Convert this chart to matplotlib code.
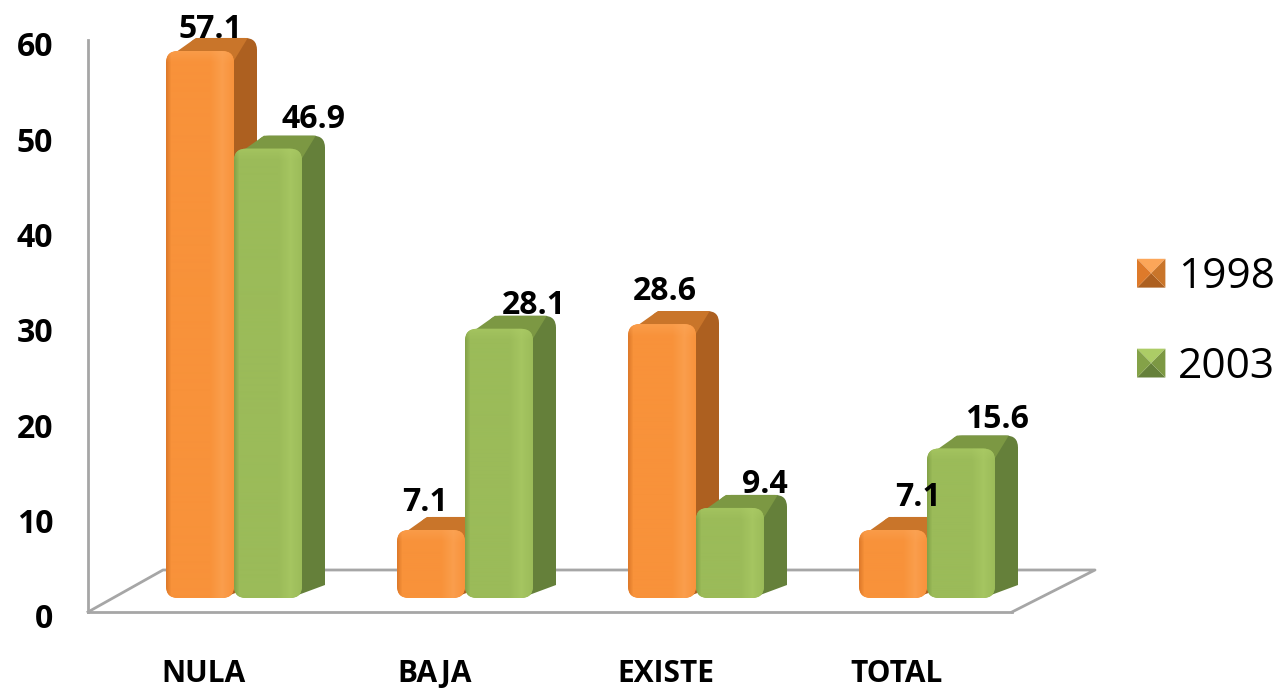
import numpy as np
import matplotlib
matplotlib.use('Agg')
import matplotlib.pyplot as plt
from matplotlib.legend_handler import HandlerBase
from matplotlib.patches import FancyBboxPatch, Patch, Polygon
from matplotlib.colors import to_rgb
from matplotlib.transforms import ScaledTranslation

# Data
categories = ['NULA', 'BAJA', 'EXISTE', 'TOTAL']
years = ['1998', '2003']
values_1998 = [57.1, 7.1, 28.6, 7.1]
values_2003 = [46.9, 28.1, 9.4, 15.6]
y_ticks = [0, 10, 20, 30, 40, 50, 60]

# Label offsets from the top centre of each bar, in pixels
label_shift_1998 = [(10, 21), (-6, 27), (3, 33), (25, 32)]
label_shift_2003 = [(46, 29), (35, 23), (35, 23), (36, 29)]

W, H = 1281, 691
PX_X = 231.0   # pixels per category
PX_Y = 9.58    # pixels per value unit
BAR_W = 68 / PX_X
DX = 23 / PX_X
DY = 13 / PX_Y

ORANGE = dict(front='#F8923A', dark='#DE7A2A', light='#FCA659', side='#AD6020', top='#C9752A')
GREEN = dict(front='#9BBB59', dark='#84A248', light='#ACCC66', side='#65803A', top='#7C9843')

plt.rcParams['font.family'] = ['Open Sans', 'DejaVu Sans']

fig = plt.figure(figsize=(W / 100, H / 100), dpi=100, facecolor='white')
# wall axes: left spine and bottom edge of the floor
ax = fig.add_axes([88 / W, 1 - 612 / H, (1012 - 88) / W, (612 - 40) / H])
ax.set_xlim((88 - 234) / PX_X, (1012 - 234) / PX_X)
ax.set_ylim(0, 60)
ax.set_facecolor('none')
for s in ['top', 'right']:
    ax.spines[s].set_visible(False)
for s in ['left', 'bottom']:
    ax.spines[s].set_color('#a6a6a6')
    ax.spines[s].set_linewidth(2)
ax.set_yticks(y_ticks)
ax.set_yticklabels([str(t) for t in y_ticks], fontsize=23, fontweight='bold', color='black')
ax.tick_params(axis='y', length=0, pad=25)
# tick labels sit a little lower than the wall scale
shift_down = ScaledTranslation(0, -4 / 100, fig.dpi_scale_trans)
for lab in ax.get_yticklabels():
    lab.set_transform(lab.get_transform() + shift_down)
x = np.arange(len(categories))
ax.set_xticks(x - 0.13)
ax.set_xticklabels(categories, fontsize=21.5, fontweight='bold', color='black')
ax.tick_params(axis='x', length=0, pad=34)

# floor lines
floor_x = [(1012 - 234) / PX_X, (1095 - 234) / PX_X, (163 - 234) / PX_X, (88 - 234) / PX_X]
floor_y = [0, 42 / 9.53, 42 / 9.53, 0]
ax.plot(floor_x, floor_y, color='#a6a6a6', lw=2, clip_on=False)

# bars use their own value scale (front plane sits above the wall base)
bx = ax.twinx()
bx.set_ylim(-14 / PX_Y, (598 - 40) / PX_Y)
bx.axis('off')
aspect = PX_X / PX_Y


def front_image(c, v):
    h_px = max(int(v * PX_Y), 4)
    w_px = 68
    base = np.array(to_rgb(c['front']))
    light = np.array(to_rgb(c['light']))
    dark = np.array(to_rgb(c['dark']))
    img = np.ones((h_px, w_px, 3)) * base
    # bevel at the edges, soft bright stripe toward the right
    for i in range(w_px):
        if i < 5:
            img[:, i] = dark + (base - dark) * i / 5
        elif i > w_px - 24:
            t = 1 - abs(i - (w_px - 12)) / 12
            img[:, i] = light * 0.6 * t + base * (1 - 0.6 * t)
    for j in range(min(12, h_px)):
        t = 1 - j / 12
        img[j] = img[j] * (1 - 0.5 * t) + light * 0.5 * t
    return img


def draw_bar(axb, xl, v, c, z):
    r = 12 / PX_X
    # back box gives the rounded top of the side face
    back = FancyBboxPatch((xl + DX, v * 0.5 + DY), BAR_W, v * 0.5, boxstyle=f'round,pad=0,rounding_size={r}',
                          mutation_aspect=aspect, fc=c['side'], ec='none', zorder=z, clip_on=False)
    axb.add_patch(back)
    side = Polygon([(xl + BAR_W - 2 * r, 0), (xl + BAR_W - r, 0), (xl + BAR_W + DX, DY), (xl + BAR_W + DX, v + DY - r * aspect),
                    (xl + BAR_W - 2 * r, v)], fc=c['side'], ec='none', zorder=z, clip_on=False)
    axb.add_patch(side)
    top = Polygon([(xl + 0.015, v - 0.6), (xl + DX + 0.03, v + DY), (xl + BAR_W + DX - 0.04, v + DY),
                   (xl + BAR_W, v - 1.0)], fc=c['top'], ec='none', zorder=z, clip_on=False)
    axb.add_patch(top)
    # front face with gradient clipped to a rounded box
    front = FancyBboxPatch((xl, 0), BAR_W, v, boxstyle=f'round,pad=0,rounding_size={r}',
                           mutation_aspect=aspect, fc=c['front'], ec='none', zorder=z + 0.1, clip_on=False)
    axb.add_patch(front)
    im = axb.imshow(front_image(c, v), extent=(xl, xl + BAR_W, 0, v), aspect='auto',
                    zorder=z + 0.2, interpolation='bilinear')
    im.set_clip_path(front)


xlim = ax.get_xlim()
ylim = bx.get_ylim()
for i in range(len(categories)):
    xl_a = i - BAR_W
    xl_b = i
    draw_bar(bx, xl_a, values_1998[i], ORANGE, 10 + i * 2)
    draw_bar(bx, xl_b, values_2003[i], GREEN, 11 + i * 2)
    for xl, v, sh in [(xl_a, values_1998[i], label_shift_1998[i]), (xl_b, values_2003[i], label_shift_2003[i])]:
        bx.annotate(f'{v}', (xl + BAR_W / 2, v), xytext=sh, textcoords='offset pixels', ha='center',
                    va='center', fontsize=23, fontweight='bold', color='black', zorder=30,
                    annotation_clip=False)
bx.set_xlim(xlim)
bx.set_ylim(ylim)


class PyramidHandler(HandlerBase):
    def create_artists(self, legend, orig, xd, yd, width, height, fontsize, trans):
        c = orig.colors
        x0, y0 = -xd, -yd
        x1, y1 = x0 + width, y0 + height
        mx, my = (x0 + x1) / 2, (y0 + y1) / 2
        faces = [([(x0, y1), (x1, y1), (mx, my)], c['light']),
                 ([(x0, y0), (x1, y0), (mx, my)], c['side']),
                 ([(x0, y0), (x0, y1), (mx, my)], c['dark']),
                 ([(x1, y0), (x1, y1), (mx, my)], c['top'])]
        return [Polygon(p, fc=col, ec='none', transform=trans) for p, col in faces]


h1 = Patch(label=years[0])
h1.colors = ORANGE
h2 = Patch(label=years[1])
h2.colors = GREEN
leg = fig.legend(handles=[h1, h2], handler_map={Patch: PyramidHandler()}, loc='center left',
                 bbox_to_anchor=(1137 / W, 1 - 322 / H), frameon=False, prop={'size': 30.5},
                 labelspacing=1.13, handlelength=0.67, handleheight=0.67, handletextpad=0.3,
                 borderpad=0, borderaxespad=0)

fig.savefig('out.png', dpi=100)
